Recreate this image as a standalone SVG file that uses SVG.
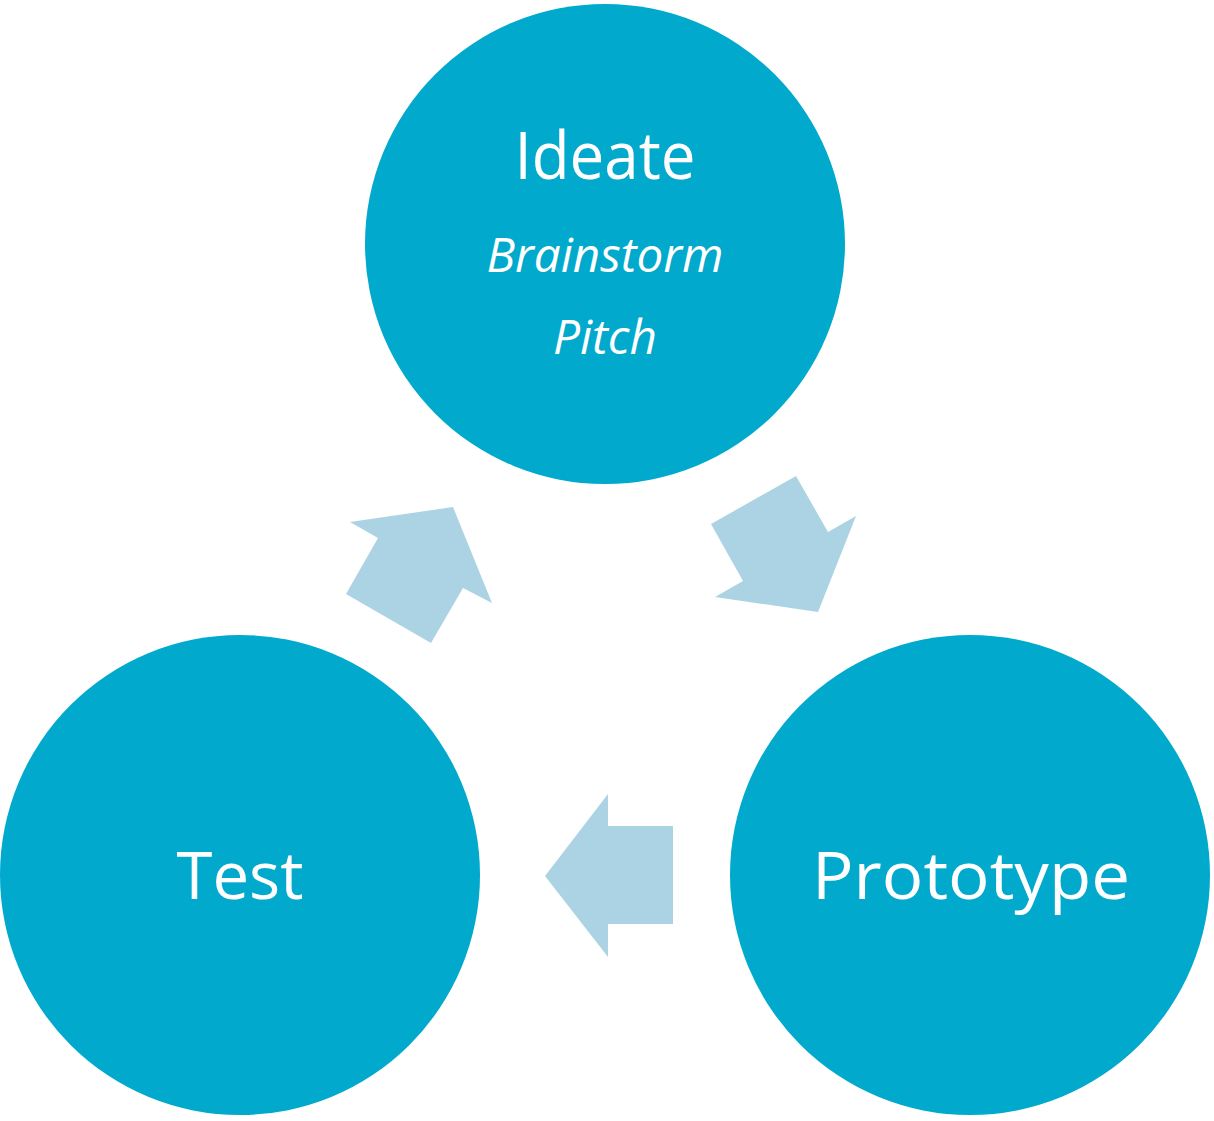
<svg xmlns="http://www.w3.org/2000/svg" width="1214" height="1121" viewBox="0 0 1214 1121">
<style>
.node{fill:#01A9CD}
.arrow{fill:#ACD3E3}
.t{font-family:"Open Sans","Noto Sans","DejaVu Sans",sans-serif;fill:#fff;text-anchor:middle}
.big{font-size:66px}
.it{font-size:47px;font-style:italic}
</style>
<rect width="1214" height="1121" fill="#fff"/>
<g id="connectors">
<polygon class="arrow" points="350,522 378,538 346,594 431,643 463,588 492,603 453,507"/>
<polygon class="arrow" points="711,524 796,476 828,532 856,516 818,612 715,597 743,581"/>
<polygon class="arrow" points="608,794 545,876 608,957 608,924 673,924 673,826 608,826"/>
</g>
<g id="ideate">
<circle class="node" cx="605" cy="244" r="240"/>
<text class="t big" x="605" y="179" textLength="181" lengthAdjust="spacingAndGlyphs">Ideate</text>
<text class="t it" x="605" y="272" textLength="237" lengthAdjust="spacingAndGlyphs">Brainstorm</text>
<text class="t it" x="605" y="354" textLength="104" lengthAdjust="spacingAndGlyphs">Pitch</text>
</g>
<g id="test">
<circle class="node" cx="240" cy="875" r="240"/>
<text class="t big" x="240" y="899" textLength="127" lengthAdjust="spacingAndGlyphs">Test</text>
</g>
<g id="prototype">
<circle class="node" cx="970" cy="875" r="240"/>
<text class="t big" x="971" y="899" textLength="318" lengthAdjust="spacingAndGlyphs">Prototype</text>
</g>
</svg>
